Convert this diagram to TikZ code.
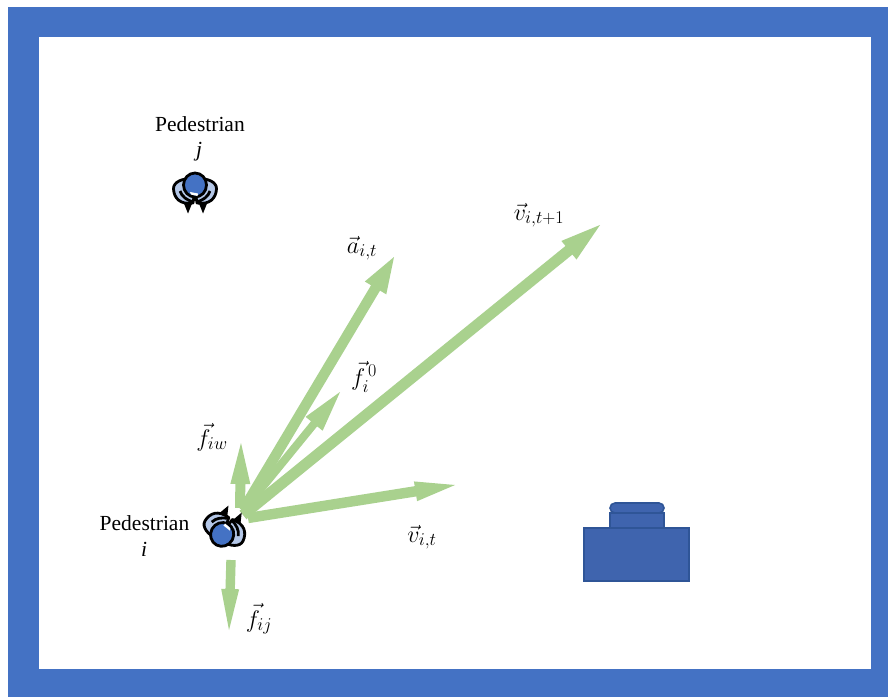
\documentclass[tikz,border=0pt]{standalone}
\usepackage{fix-cm}
\usepackage{amsmath}
\usepackage{fontspec}
\setmainfont{Liberation Serif}
\DeclareMathSizes{24}{24}{18}{14}
\usetikzlibrary{calc}
\definecolor{framecol}{HTML}{4472C4}
\definecolor{arrowcol}{HTML}{A9D18E}
\definecolor{bodycol}{HTML}{B4C7E7}
\definecolor{headcol}{HTML}{4472C4}
\definecolor{tablecol}{HTML}{3F64AE}
\definecolor{tableedge}{HTML}{2F5597}
% fat arrow from named coordinate #1 to #2: half shaft width #3, head length #4, half head width #5
\newcommand{\fatarrow}[5]{%
  \coordinate (hb) at ($(#2)!#4pt!(#1)$);
  \fill[arrowcol]
    ($(#1)!#3pt!90:(#2)$) -- ($(hb)!#3pt!90:(#2)$) -- ($(hb)!#5pt!90:(#2)$) -- (#2) --
    ($(hb)!#5pt!-90:(#2)$) -- ($(hb)!#3pt!-90:(#2)$) -- ($(#1)!#3pt!-90:(#2)$) -- cycle;
}
\tikzset{
  lbl/.style={font=\fontsize{24}{27}\selectfont,inner sep=0pt},
  txt/.style={font=\fontsize{21.5}{25}\selectfont,inner sep=0pt},
  tablepart/.style={fill=tablecol,draw=tableedge,line width=1.6pt},
  pedestrian/.pic={
    \begin{scope}[line width=2.8pt,draw=black,line join=round]
      \fill[black] (-12,11) -- (-2,11) -- (-7,23.5) -- cycle;
      \fill[black] (3,11) -- (13,11) -- (8,23.5) -- cycle;
      \filldraw[fill=bodycol] (-4,-11) .. controls (-12,-12) and (-22,-8) .. (-21.5,-1) .. controls (-21,8) and (-15,15) .. (-2,13) -- (0,0) -- cycle;
      \filldraw[fill=bodycol] (4,-11) .. controls (12,-12) and (22,-8) .. (21.5,-1) .. controls (21,8) and (15,15) .. (2,13) -- (0,0) -- cycle;
      \draw (-15,1) .. controls (-13,7) and (-8,10) .. (-2,12);
      \draw (15,1) .. controls (13,7) and (8,10) .. (2,12);
      \filldraw[fill=headcol] (0,-5) ellipse[x radius=11.5,y radius=12];
      \fill[white] (-5,2) -- (3,3.5) -- (2.5,6) -- (-4,4.5) -- cycle;
    \end{scope}
  }
}
\begin{document}
\begin{tikzpicture}[x=1pt,y=-1pt]
\useasboundingbox (0,0) rectangle (888,697);
\fill[white] (0,0) rectangle (888,697);
\fill[framecol] (8,7) rectangle (888,697);
\fill[white] (39,37) rectangle (871,669);

% coordinates
\coordinate (oa) at (243,510);  \coordinate (ta) at (394,257);
\coordinate (of) at (243,511);  \coordinate (tf) at (340,392);
\coordinate (ov) at (243,515);  \coordinate (tv) at (600,225);
\coordinate (ou) at (248,518);  \coordinate (tu) at (455,485);
\coordinate (ow) at (240,508);  \coordinate (tw) at (241,443);
\coordinate (oj) at (231,560);  \coordinate (tj) at (229,630);

% force arrows
\fatarrow{of}{tf}{4}{41}{11}
\fatarrow{oa}{ta}{5.2}{36}{12.5}
\fatarrow{ov}{tv}{5.5}{40}{12}
\fatarrow{ou}{tu}{5.2}{40}{10}
\fatarrow{ow}{tw}{5}{41}{10}
\fatarrow{oj}{tj}{4.7}{41}{9}

% pedestrians
\pic at (195,190) {pedestrian};
\pic[rotate=152] at (224.5,530) {pedestrian};

% table
\draw[tablepart] (610,528) -- (610,513) -- (664,513) -- (664,528) -- cycle;
\draw[tablepart,rounded corners=5pt] (610,513) -- (610,503) -- (664,503) -- (664,513) -- cycle;
\draw[tablepart] (584,528) rectangle (689,581);

% labels
\node[txt] (p1) at (200,124) {Pedestrian};
\node[txt] (p1b) at (199,152) {\textit{j}};
\node[txt] (p2) at (144.5,523) {Pedestrian};
\node[txt] (p2b) at (144,549) {\textit{i}};
\node[lbl] (la) at (362,248) {$\vec{a}_{i,t}$};
\node[lbl] (lv) at (539,215) {$\vec{v}_{i,t+1}$};
\node[lbl] (lf) at (364,377) {$\vec{f}_{i}^{\,0}$};
\node[lbl] (lw) at (212,437) {$\vec{f}_{iw}$};
\node[lbl] (lu) at (422,537) {$\vec{v}_{i,t}$};
\node[lbl] (lj) at (259,619) {$\vec{f}_{ij}$};
\end{tikzpicture}
\end{document}
